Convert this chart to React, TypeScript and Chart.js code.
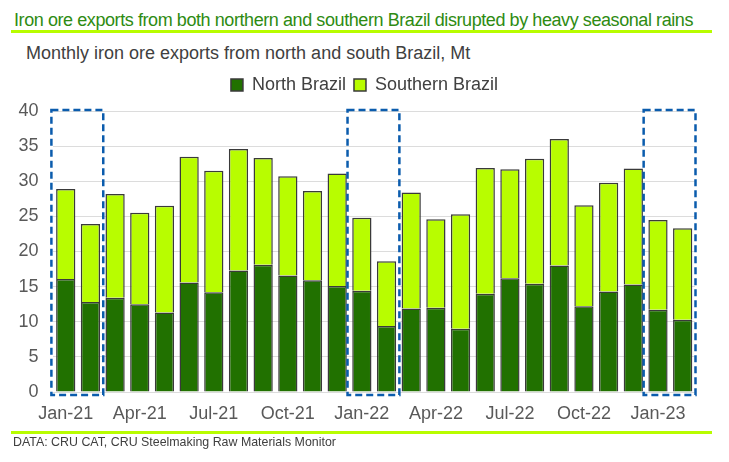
import React, { useEffect, useRef } from 'react';
import { Chart, registerables } from 'chart.js';

Chart.register(...registerables);

const months = [
  'Jan-21', 'Feb-21', 'Mar-21', 'Apr-21', 'May-21', 'Jun-21', 'Jul-21', 'Aug-21', 'Sep-21', 'Oct-21', 'Nov-21', 'Dec-21',
  'Jan-22', 'Feb-22', 'Mar-22', 'Apr-22', 'May-22', 'Jun-22', 'Jul-22', 'Aug-22', 'Sep-22', 'Oct-22', 'Nov-22', 'Dec-22',
  'Jan-23', 'Feb-23',
];

const northBrazil = [
  16.1, 12.8, 13.4, 12.5, 11.3, 15.6, 14.2, 17.3, 18.1, 16.6, 15.9, 15.1,
  14.4, 9.4, 11.9, 12.0, 9.0, 14.0, 16.2, 15.4, 18.0, 12.2, 14.3, 15.3,
  11.7, 10.3,
];

const southernBrazil = [
  12.8, 11.1, 14.8, 13.0, 15.2, 17.9, 17.3, 17.3, 15.2, 14.1, 12.7, 16.0,
  10.4, 9.2, 16.5, 12.6, 16.3, 17.9, 15.5, 17.8, 18.0, 14.4, 15.5, 16.5,
  12.8, 13.0,
];

const highlightedPeriods = [
  ['Jan-21', 'Feb-21'],
  ['Jan-22', 'Feb-22'],
  ['Jan-23', 'Feb-23'],
];

const shownTickLabels = ['Jan-21', 'Apr-21', 'Jul-21', 'Oct-21', 'Jan-22', 'Apr-22', 'Jul-22', 'Oct-22', 'Jan-23'];

const yTicks = { min: 0, max: 40, step: 5 };

const FONT = '"Liberation Sans", Arial, Helvetica, sans-serif';
const TEXT_GRAY = '#404040';
const TICK_GRAY = '#595959';
const LIME = '#b8fd00';
const DARK_GREEN = '#217100';
const TITLE_GREEN = '#2e8b12';
const BOX_BLUE = '#0b5cad';

const highlightPlugin = {
  id: 'highlightBoxes',
  afterDatasetsDraw(chart: any) {
    const x = chart.scales.x;
    const y = chart.scales.y;
    const ctx = chart.ctx;
    const half = (x.getPixelForValue(1) - x.getPixelForValue(0)) / 2;
    ctx.save();
    ctx.strokeStyle = BOX_BLUE;
    ctx.lineWidth = 2.5;
    ctx.setLineDash([7, 4]);
    highlightedPeriods.forEach(([a, b]) => {
      const i0 = months.indexOf(a);
      const i1 = months.indexOf(b);
      const left = x.getPixelForValue(i0) - half - 2;
      const right = x.getPixelForValue(i1) + half + 0.5;
      const top = y.getPixelForValue(yTicks.max) - 1;
      const bottom = y.getPixelForValue(yTicks.min) + 3;
      ctx.strokeRect(left, top, right - left, bottom - top);
    });
    ctx.restore();
  },
};

const legendSpacer = {
  id: 'legendSpacer',
  beforeLayout(chart: any) {
    const legend = chart.legend;
    if (legend && !legend.__patched) {
      const orig = legend.fit;
      legend.fit = function () {
        orig.call(this);
        this.height += 7;
      };
      legend.__patched = true;
    }
  },
  afterLayout(chart: any) {
    const legend = chart.legend;
    if (legend) {
      legend.left = 34;
    }
  },
};

function BrazilChart() {
  const ref = useRef<HTMLCanvasElement | null>(null);

  useEffect(() => {
    if (!ref.current) return;
    const chart = new Chart(ref.current, {
      type: 'bar',
      data: {
        labels: months,
        datasets: [
          {
            label: 'North Brazil',
            data: northBrazil,
            backgroundColor: DARK_GREEN,
            borderColor: '#3a3a3a',
            borderWidth: 1.5,
            barPercentage: 0.78,
            categoryPercentage: 1,
          },
          {
            label: 'Southern Brazil',
            data: southernBrazil,
            backgroundColor: LIME,
            borderColor: '#3a3a3a',
            borderWidth: 1.5,
            barPercentage: 0.78,
            categoryPercentage: 1,
          },
        ],
      },
      options: {
        animation: false,
        responsive: false,
        maintainAspectRatio: false,
        layout: { padding: { left: 0, right: 34, top: 0, bottom: 0 } },
        plugins: {
          legend: {
            position: 'top',
            align: 'center',
            labels: {
              boxWidth: 12,
              boxHeight: 12,
              padding: 8,
              color: TEXT_GRAY,
              font: { family: FONT, size: 18 },
            },
          },
          tooltip: { enabled: false },
        },
        scales: {
          x: {
            stacked: true,
            grid: { display: false, drawTicks: false },
            border: { display: false },
            ticks: {
              autoSkip: false,
              maxRotation: 0,
              minRotation: 0,
              padding: 11,
              color: TICK_GRAY,
              font: { family: FONT, size: 18 },
              callback: (_v: any, i: number) => (shownTickLabels.includes(months[i]) ? months[i] : ''),
            },
            afterFit: (s: any) => {
              s.height = 40;
            },
          },
          y: {
            stacked: true,
            min: yTicks.min,
            max: yTicks.max,
            grid: { color: '#dcdcdc', lineWidth: 1, drawTicks: false },
            border: { display: false },
            ticks: {
              stepSize: yTicks.step,
              padding: 15,
              color: TICK_GRAY,
              font: { family: FONT, size: 18 },
            },
            afterFit: (s: any) => {
              s.width = 53.4;
            },
          },
        },
      },
      plugins: [highlightPlugin, legendSpacer],
    });
    return () => chart.destroy();
  }, []);

  return <canvas ref={ref} width={729} height={364} style={{ position: 'absolute', left: 0, top: 68, width: 729, height: 364 }} />;
}

export default function App() {
  return (
    <div style={{ position: 'absolute', left: 0, top: 0, width: 729, height: 462, background: '#ffffff', fontFamily: FONT, overflow: 'hidden' }}>
      <div style={{ position: 'absolute', left: 14, top: 9, fontSize: 18, letterSpacing: '-0.42px', lineHeight: '22px', color: TITLE_GREEN, whiteSpace: 'nowrap' }}>
        Iron ore exports from both northern and southern Brazil disrupted by heavy seasonal rains
      </div>
      <div style={{ position: 'absolute', left: 11, top: 30, width: 701, height: 3, background: LIME }} />
      <div style={{ position: 'absolute', left: 26, top: 42, fontSize: 18, lineHeight: '22px', color: TEXT_GRAY, whiteSpace: 'nowrap' }}>
        Monthly iron ore exports from north and south Brazil, Mt
      </div>
      <BrazilChart />
      <div style={{ position: 'absolute', left: 11, top: 430.5, width: 701, height: 3, background: LIME }} />
      <div style={{ position: 'absolute', left: 13, top: 435, fontSize: 12.4, lineHeight: '14px', color: TEXT_GRAY, whiteSpace: 'nowrap' }}>
        DATA: CRU CAT, CRU Steelmaking Raw Materials Monitor
      </div>
    </div>
  );
}
